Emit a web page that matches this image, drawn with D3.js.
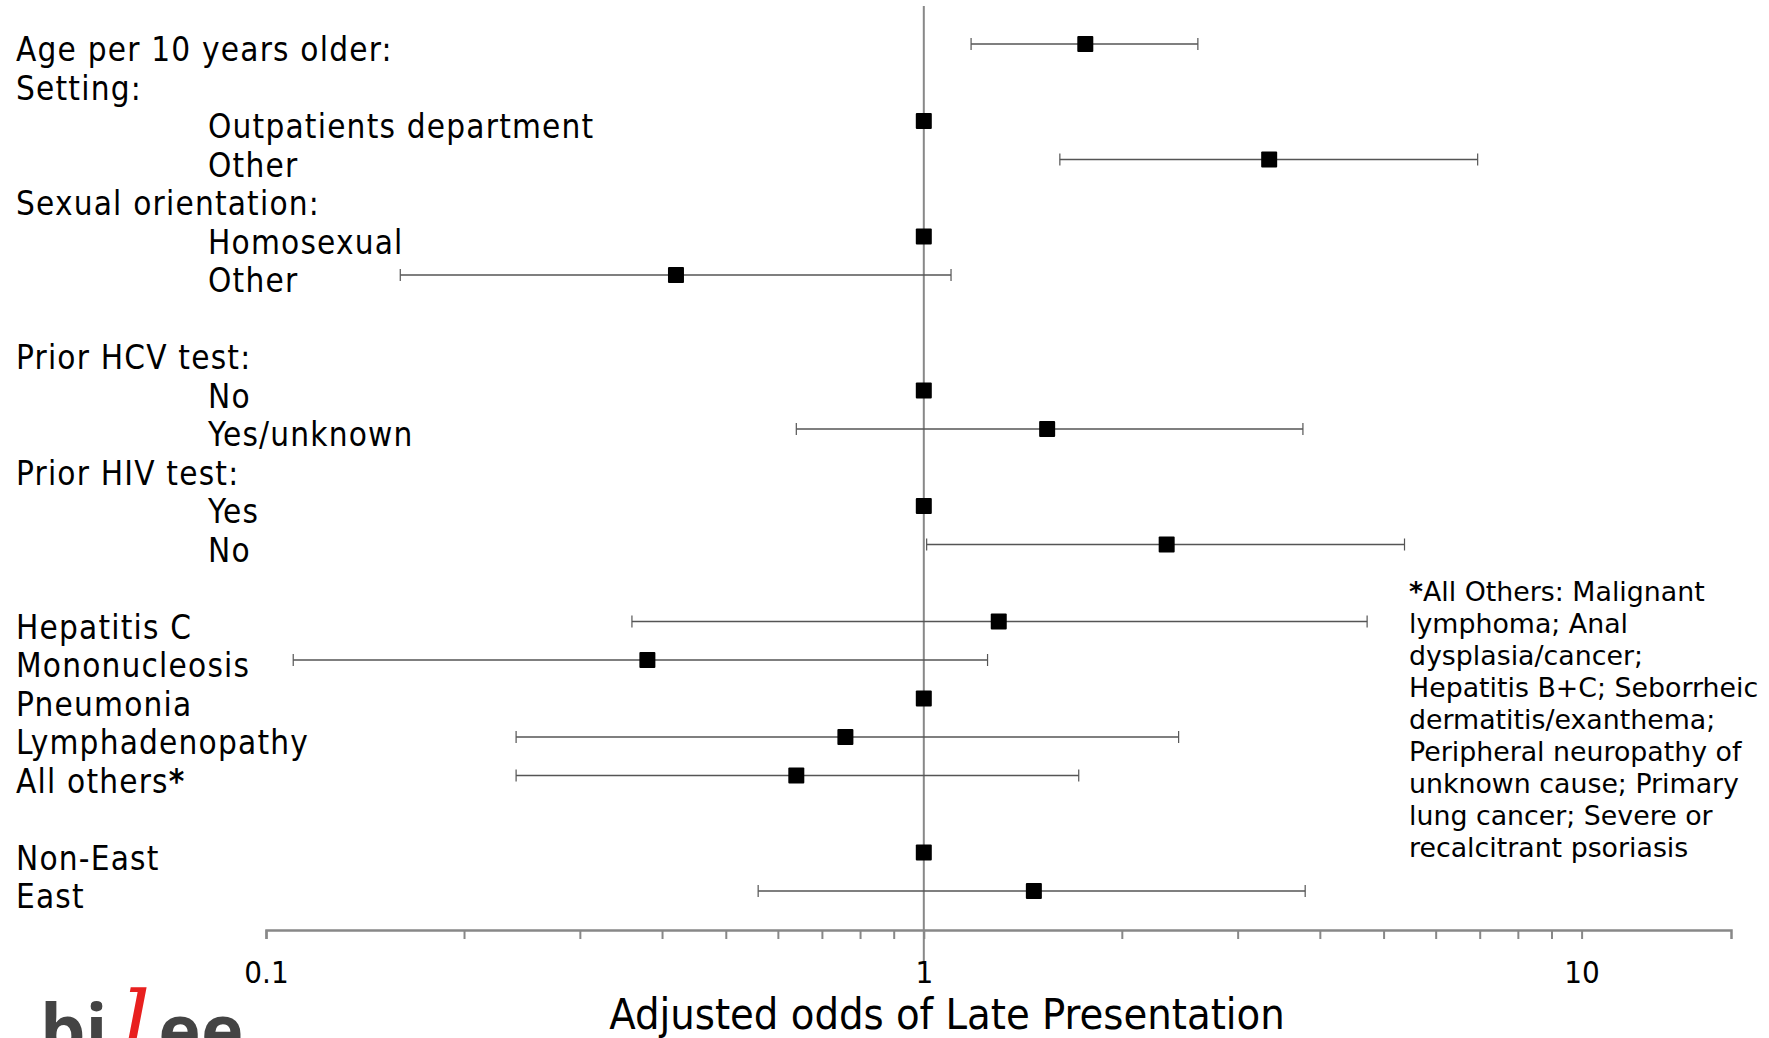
<!DOCTYPE html>
<html>
<head>
<meta charset="utf-8">
<script src="https://cdn.jsdelivr.net/npm/d3@7"></script>
<style>
  body { margin: 0; background: #fff; }
  svg { display: block; }
</style>
</head>
<body>
<svg id="chart" width="1769" height="1038"></svg>
<script>
// row labels, top to bottom (blank = spacer row)
const labels = ["Age per 10 years older:", "Setting:", "Outpatients department", "Other",
  "Sexual orientation:", "Homosexual", "Other", "", "Prior HCV test:", "No", "Yes/unknown",
  "Prior HIV test:", "Yes", "No", "", "Hepatitis C", "Mononucleosis", "Pneumonia",
  "Lymphadenopathy", "All others", "", "Non-East", "East"];
const indented = [0, 0, 1, 1, 0, 1, 1, 0, 0, 1, 1, 0, 1, 1, 0, 0, 0, 0, 0, 0, 0, 0, 0];

// adjusted odds ratio and 95% CI (null = no estimate / reference only)
const odds  = [1.76, null, 1, 3.35, null, 1, 0.42, null, null, 1, 1.54, null, 1, 2.34, null, 1.30, 0.38, 1, 0.76, 0.64, null, 1, 1.47];
const lower = [1.18, null, null, 1.61, null, null, 0.16, null, null, null, 0.64, null, null, 1.01, null, 0.36, 0.11, null, 0.24, 0.24, null, null, 0.56];
const upper = [2.61, null, null, 6.95, null, null, 1.10, null, null, null, 3.77, null, null, 5.38, null, 4.72, 1.25, null, 2.44, 1.72, null, null, 3.80];

const tickVals = [0.1, 0.2, 0.3, 0.4, 0.5, 0.6, 0.7, 0.8, 0.9, 1, 2, 3, 4, 5, 6, 7, 8, 9, 10];
const tickLabels = {0.1: "0.1", 1: "1", 10: "10"};

const footnote = ["All Others: Malignant", "lymphoma; Anal", "dysplasia/cancer;",
  "Hepatitis B+C; Seborrheic", "dermatitis/exanthema;", "Peripheral neuropathy of",
  "unknown cause; Primary", "lung cancer; Severe or", "recalcitrant psoriasis"];

const svg = d3.select("#chart");
const labelFont = "'DejaVu Sans Condensed', 'DejaVu Sans', sans-serif";
const axisFont = "'Liberation Sans Narrow', 'DejaVu Sans Condensed', sans-serif";

const x = d3.scaleLog().domain([0.1, 16.87]).range([266, 1731]);
const y = d3.scaleLinear().domain([0, labels.length - 1]).range([44, 891]);
const axisY = 930;

const rows = labels.map((l, i) => ({label: l, ind: indented[i], or: odds[i], lo: lower[i], hi: upper[i], i: i}));

// reference line at OR = 1
svg.append("line")
  .attr("x1", x(1)).attr("x2", x(1))
  .attr("y1", 6).attr("y2", 963)
  .attr("stroke", "#888").attr("stroke-width", 2);

// x axis
const axis = d3.axisBottom(x)
  .tickValues(tickVals)
  .tickSize(9)
  .tickSizeOuter(9)
  .tickPadding(22)
  .tickFormat(d => tickLabels[d] || "");

const ax = svg.append("g")
  .attr("transform", `translate(0,${axisY})`)
  .call(axis);
ax.select(".domain").attr("stroke", "#888").attr("stroke-width", 2.5);
ax.selectAll(".tick line").attr("stroke", "#888").attr("stroke-width", 2);
ax.selectAll(".tick text")
  .attr("fill", "#000")
  .style("font-family", axisFont)
  .style("font-size", "31px");

svg.append("text")
  .attr("x", 947).attr("y", 1029)
  .attr("text-anchor", "middle")
  .style("font-family", axisFont)
  .style("font-size", "43px")
  .text("Adjusted odds of Late Presentation");

// labels
const lab = svg.append("g").selectAll("text")
  .data(rows.filter(d => d.label))
  .join("text")
  .attr("x", d => d.ind ? 208 : 16)
  .attr("y", d => y(d.i) + 17)
  .style("font-family", labelFont)
  .style("font-size", "33px")
  .style("letter-spacing", "1.2px")
  .text(d => d.label);
lab.filter(d => d.label === "All others")
  .append("tspan").style("font-weight", "bold").text("*");

// confidence intervals
const ci = rows.filter(d => d.lo != null);
const g = svg.append("g");
g.selectAll("line.ci").data(ci).join("line")
  .attr("class", "ci")
  .attr("x1", d => x(d.lo)).attr("x2", d => x(d.hi))
  .attr("y1", d => y(d.i)).attr("y2", d => y(d.i))
  .attr("stroke", "#555").attr("stroke-width", 1.5);
["lo", "hi"].forEach(k => {
  g.selectAll("line.cap" + k).data(ci).join("line")
    .attr("class", "cap" + k)
    .attr("x1", d => x(d[k])).attr("x2", d => x(d[k]))
    .attr("y1", d => y(d.i) - 6).attr("y2", d => y(d.i) + 6)
    .attr("stroke", "#555").attr("stroke-width", 1.2);
});

// point estimates
const s = 16;
g.selectAll("rect").data(rows.filter(d => d.or != null)).join("rect")
  .attr("x", d => x(d.or) - s / 2)
  .attr("y", d => y(d.i) - s / 2)
  .attr("width", s).attr("height", s)
  .attr("rx", 1)
  .attr("fill", "#000");

// footnote
const fn = svg.append("text")
  .attr("x", 1409).attr("y", 601)
  .style("font-family", "'DejaVu Sans', Verdana, sans-serif")
  .style("font-size", "26.8px");
footnote.forEach((t, i) => {
  const ts = fn.append("tspan").attr("x", 1409).attr("y", 601 + i * 32);
  if (i === 0) ts.append("tspan").style("font-weight", "bold").text("*");
  ts.append("tspan").text(t);
});

// logo (cut off at the bottom edge, as in the source slide)
const logo = svg.append("text")
  .attr("x", 40).attr("y", 1056)
  .style("font-family", "'Open Sans', 'DejaVu Sans', sans-serif")
  .style("font-size", "72px")
  .style("font-weight", "bold")
  .attr("fill", "#444");
logo.append("tspan").text("bi");
logo.append("tspan").attr("fill", "#e8201f").attr("dx", 14)
  .style("font-style", "italic").style("font-weight", "normal")
  .style("font-family", "'DejaVu Serif', serif").style("font-size", "90px").text("l");
logo.append("tspan").attr("dx", 8).text("ee");
</script>
</body>
</html>
